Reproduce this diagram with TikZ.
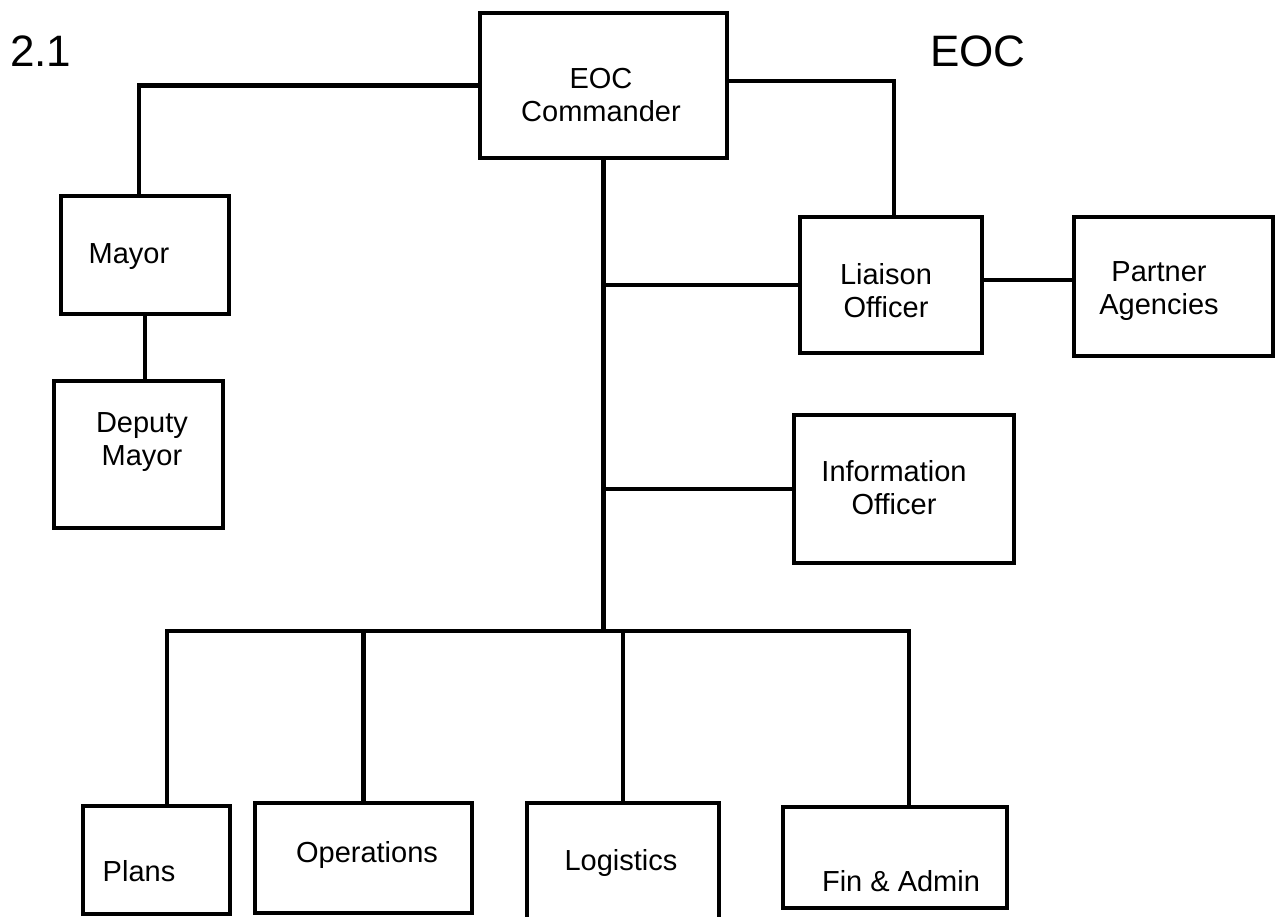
\documentclass[tikz,border=0pt]{standalone}
\usepackage{fontspec}
\setmainfont{Liberation Sans}
\begin{document}
\begin{tikzpicture}[x=1pt,y=-1pt,
  box/.style={draw=black,line width=4.8pt,inner sep=0pt,fill=none},
  txt/.style={inner sep=0pt,align=center,font=\fontsize{29}{33}\selectfont},
  big/.style={inner sep=0pt,anchor=west,font=\fontsize{44}{50}\selectfont},
  conn/.style={draw=black,line width=4.8pt}]
\useasboundingbox (0,0) rectangle (1279,917);
% boxes
\node[box,minimum width=247pt,minimum height=145pt] (cmd) at (603.5,85.5) {};
\node[box,minimum width=168pt,minimum height=118pt] (mayor) at (145,255) {};
\node[box,minimum width=169pt,minimum height=147pt] (deputy) at (138.5,454.5) {};
\node[box,minimum width=182pt,minimum height=136pt] (liaison) at (891,285) {};
\node[box,minimum width=199pt,minimum height=139pt] (partner) at (1173.5,286.5) {};
\node[box,minimum width=220pt,minimum height=148pt] (info) at (904,489) {};
\node[box,minimum width=147pt,minimum height=108pt] (plans) at (156.5,860) {};
\node[box,minimum width=217pt,minimum height=110pt] (ops) at (363.5,858) {};
\node[box,minimum width=192pt,minimum height=118pt] (logi) at (623,862) {};
\node[box,minimum width=224pt,minimum height=101pt] (fin) at (895,857.5) {};
% texts
\node[big] (t21) at (10,51) {2.1};
\node[big] (teoc) at (930,51) {EOC};
\node[txt] (tcmd) at (601,95) {EOC\\Commander};
\node[txt] (tmayor) at (129,257) {Mayor};
\node[txt] (tdeputy) at (142,442) {Deputy\\Mayor};
\node[txt] (tliaison) at (886,291) {Liaison\\Officer};
\node[txt] (tpartner) at (1159,291) {Partner\\Agencies};
\node[txt] (tinfo) at (894,488) {Information\\Officer};
\node[txt] (tplans) at (139,871) {Plans};
\node[txt] (tops) at (367,855) {Operations};
\node[txt] (tlogi) at (621,863) {Logistics};
\node[txt] (tfin) at (901,881) {Fin \& Admin};
% connectors
\coordinate (bus) at (603.5,631);
\coordinate (busL) at (167,631);
\coordinate (busR) at (909,631);
\draw[conn] (cmd.west) -| ([xshift=-6pt]mayor.north);
\draw[conn] (mayor.south) -- (mayor.south |- deputy.north);
\draw[conn] ([yshift=4.5pt]cmd.east) -| ([xshift=3pt]liaison.north);
\draw[conn] ([yshift=5pt]liaison.east) -- ([yshift=5pt]liaison.east -| partner.west);
\draw[conn] (cmd.south) -- (bus);
\draw[conn] (cmd.south |- liaison.west) -- (liaison.west);
\draw[conn] (cmd.south |- info.west) -- (info.west);
\draw[conn,line cap=rect] (busL) -- (busR);
\draw[conn] (busL) -- (busL |- plans.north);
\draw[conn] (ops.north |- bus) -- (ops.north);
\draw[conn] (logi.north |- bus) -- (logi.north);
\draw[conn] (busR) -- (busR |- fin.north);
\end{tikzpicture}
\end{document}
